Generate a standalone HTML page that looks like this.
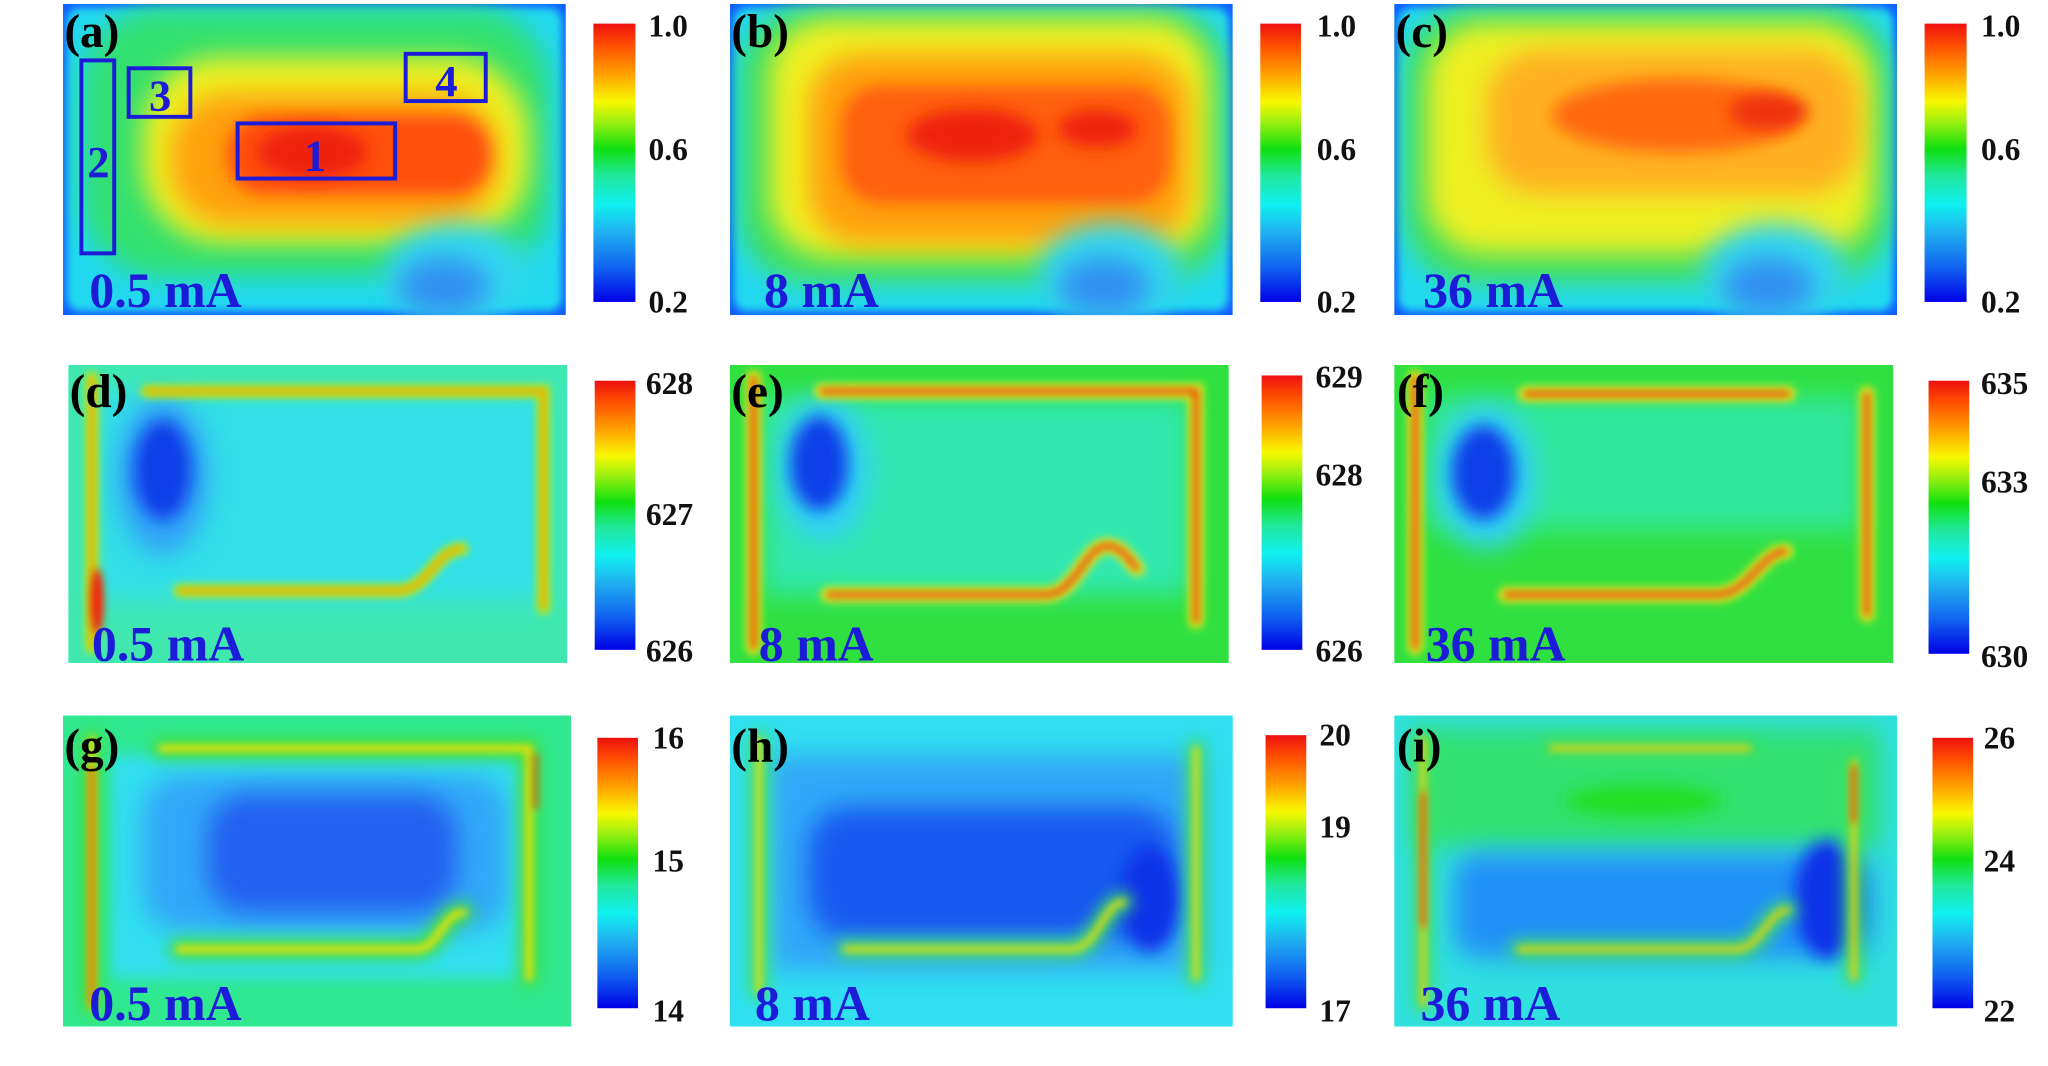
<!DOCTYPE html>
<html><head><meta charset="utf-8">
<style>html,body{margin:0;padding:0;background:#fff;width:2048px;height:1066px;overflow:hidden}svg{display:block}
text{font-family:"Liberation Serif",serif;font-weight:bold}</style></head>
<body>
<svg width="2048" height="1066" viewBox="0 0 1560 812" preserveAspectRatio="none" xmlns="http://www.w3.org/2000/svg">
<defs>
<linearGradient id="jet" x1="0" y1="1" x2="0" y2="0">
<stop offset="0" stop-color="#0000e6"/><stop offset="0.12" stop-color="#1060f0"/><stop offset="0.25" stop-color="#20b0f0"/>
<stop offset="0.35" stop-color="#10f0f0"/><stop offset="0.45" stop-color="#20e8a0"/><stop offset="0.55" stop-color="#10e010"/>
<stop offset="0.65" stop-color="#a0f010"/><stop offset="0.72" stop-color="#f8f800"/><stop offset="0.82" stop-color="#ffa000"/>
<stop offset="0.92" stop-color="#ff5000"/><stop offset="1" stop-color="#ee1010"/></linearGradient>
<filter id="b3" x="-50%" y="-50%" width="200%" height="200%"><feGaussianBlur stdDeviation="3"/></filter>
<filter id="b6" x="-50%" y="-50%" width="200%" height="200%"><feGaussianBlur stdDeviation="6"/></filter>
<filter id="b10" x="-50%" y="-50%" width="200%" height="200%"><feGaussianBlur stdDeviation="10"/></filter>
<filter id="b16" x="-50%" y="-50%" width="200%" height="200%"><feGaussianBlur stdDeviation="16"/></filter>
<clipPath id="cp1"><rect x="0" y="0" width="383" height="237"/></clipPath>
<clipPath id="cp2"><rect x="0" y="0" width="380" height="227"/></clipPath>
<clipPath id="cp3"><rect x="0" y="0" width="387" height="237"/></clipPath>
</defs>

<!-- ROW 1 -->
<g transform="translate(48,3)" clip-path="url(#cp1)">
<rect width="383" height="237" fill="#1060ff"/>
<rect x="3" y="3" width="377" height="231" rx="10" fill="#22d8f0" filter="url(#b3)"/>
<rect x="15" y="3" width="355" height="205" rx="60" fill="#30e070" filter="url(#b10)"/>
<rect x="60" y="40" width="295" height="142" rx="60" fill="#eef020" filter="url(#b10)"/>
<rect x="82" y="68" width="250" height="100" rx="45" fill="#ffa010" filter="url(#b10)"/>
<rect x="125" y="85" width="200" height="60" rx="28" fill="#ff5010" filter="url(#b6)"/>
<ellipse cx="190" cy="113" rx="42" ry="20" fill="#f02010" filter="url(#b6)"/>
<ellipse cx="300" cy="205" rx="55" ry="38" fill="#30d8f0" filter="url(#b10)"/>
<ellipse cx="290" cy="215" rx="35" ry="22" fill="#3090f0" filter="url(#b10)"/>
</g>
<g transform="translate(556,3)" clip-path="url(#cp1)">
<rect width="383" height="237" fill="#1060ff"/>
<rect x="3" y="3" width="377" height="231" rx="10" fill="#22d8f0" filter="url(#b3)"/>
<rect x="8" y="3" width="370" height="210" rx="50" fill="#40e060" filter="url(#b10)"/>
<rect x="30" y="12" width="335" height="180" rx="45" fill="#f0f020" filter="url(#b10)"/>
<rect x="60" y="38" width="290" height="145" rx="40" fill="#ffa010" filter="url(#b10)"/>
<rect x="85" y="62" width="250" height="90" rx="30" fill="#ff6010" filter="url(#b6)"/>
<ellipse cx="185" cy="100" rx="50" ry="20" fill="#f02010" filter="url(#b6)"/>
<ellipse cx="280" cy="95" rx="30" ry="14" fill="#f02010" filter="url(#b6)"/>
<ellipse cx="290" cy="205" rx="55" ry="38" fill="#30d8f0" filter="url(#b10)"/>
<ellipse cx="285" cy="215" rx="35" ry="22" fill="#3090f0" filter="url(#b10)"/>
</g>
<g transform="translate(1062,3)" clip-path="url(#cp1)">
<rect width="383" height="237" fill="#1060ff"/>
<rect x="3" y="3" width="377" height="231" rx="10" fill="#22d8f0" filter="url(#b3)"/>
<rect x="8" y="3" width="370" height="210" rx="50" fill="#40e060" filter="url(#b10)"/>
<rect x="25" y="15" width="340" height="175" rx="45" fill="#eef020" filter="url(#b10)"/>
<rect x="70" y="35" width="285" height="110" rx="40" fill="#ffb020" filter="url(#b10)"/>
<ellipse cx="215" cy="85" rx="95" ry="28" fill="#ff6a10" filter="url(#b6)"/>
<ellipse cx="285" cy="82" rx="30" ry="14" fill="#f03010" filter="url(#b6)"/>
<ellipse cx="290" cy="205" rx="55" ry="38" fill="#30d8f0" filter="url(#b10)"/>
<ellipse cx="285" cy="215" rx="35" ry="22" fill="#3090f0" filter="url(#b10)"/>
</g>
<!-- boxes in (a) -->
<g fill="none" stroke="#1b1bd8" stroke-width="3">
<rect x="62" y="46" width="25" height="147"/><rect x="98" y="52" width="47" height="37"/>
<rect x="181" y="94" width="120" height="42"/><rect x="309" y="41" width="61" height="36"/></g>
<g fill="#1b1bd8" font-size="34" text-anchor="middle"><text x="75" y="135">2</text><text x="122" y="84">3</text><text x="240" y="130">1</text><text x="340" y="73">4</text></g>

<!-- ROW 2 -->
<g transform="translate(52,278)" clip-path="url(#cp2)">
<rect width="380" height="227" fill="#40e8b0"/>
<rect x="20" y="20" width="345" height="160" fill="#30e0e8" filter="url(#b10)"/>
<ellipse cx="72" cy="85" rx="35" ry="60" fill="#30a0f8" filter="url(#b10)"/>
<ellipse cx="72" cy="80" rx="22" ry="38" fill="#1040e8" filter="url(#b6)"/>
<g fill="none" stroke-linecap="round">
<path d="M18 10 V215 M60 20 H362 V185 M85 172 H250 C275 172 280 140 300 140" stroke="#a8f020" stroke-width="10" filter="url(#b3)"/>
<path d="M18 10 V215 M60 20 H362 V185 M85 172 H250 C275 172 280 140 300 140" stroke="#f8a000" stroke-width="4" filter="url(#b3)"/>
</g>
<ellipse cx="22" cy="180" rx="5" ry="25" fill="#f02010" filter="url(#b3)"/>
</g>
<g transform="translate(556,278)" clip-path="url(#cp2)">
<rect width="380" height="227" fill="#30e040"/>
<rect x="25" y="25" width="325" height="150" fill="#30e8b0" filter="url(#b10)"/>
<ellipse cx="72" cy="80" rx="35" ry="55" fill="#30d0f8" filter="url(#b10)"/>
<ellipse cx="68" cy="75" rx="22" ry="36" fill="#1040e8" filter="url(#b6)"/>
<g fill="none" stroke-linecap="round">
<path d="M18 10 V215 M70 20 H355 V195 M75 175 H240 C265 175 270 135 290 138 C300 140 305 150 310 155" stroke="#d8f020" stroke-width="12" filter="url(#b3)"/>
<path d="M18 10 V215 M70 20 H355 V195 M75 175 H240 C265 175 270 135 290 138 C300 140 305 150 310 155" stroke="#f03010" stroke-width="4" filter="url(#b3)"/>
</g>
</g>
<g transform="translate(1062,278)" clip-path="url(#cp2)">
<rect width="383" height="227" fill="#30e040"/>
<rect x="25" y="25" width="330" height="100" fill="#30e8a0" filter="url(#b10)"/>
<ellipse cx="70" cy="85" rx="38" ry="55" fill="#30d0f8" filter="url(#b10)"/>
<ellipse cx="68" cy="82" rx="24" ry="36" fill="#1040e8" filter="url(#b6)"/>
<g fill="none" stroke-linecap="round">
<path d="M16 10 V215 M100 22 H300 M360 22 V190 M85 175 H245 C270 175 280 142 298 142" stroke="#d8f020" stroke-width="12" filter="url(#b3)"/>
<path d="M16 10 V215 M100 22 H300 M360 22 V190 M85 175 H245 C270 175 280 142 298 142" stroke="#f03010" stroke-width="4" filter="url(#b3)"/>
</g>
</g>

<!-- ROW 3 -->
<g transform="translate(48,545)" clip-path="url(#cp3)">
<rect width="387" height="237" fill="#30e890"/>
<rect x="35" y="30" width="320" height="170" fill="#30e0f0" filter="url(#b6)"/>
<rect x="60" y="45" width="280" height="120" rx="30" fill="#30a8f8" filter="url(#b10)"/>
<rect x="110" y="60" width="190" height="90" rx="30" fill="#2060f0" filter="url(#b10)"/>
<g fill="none" stroke-linecap="round">
<path d="M22 18 V222 M75 25 H355 V200 M88 178 H270 C285 178 290 150 305 150" stroke="#40e040" stroke-width="16" filter="url(#b6)"/>
<path d="M22 18 V222 M75 25 H355 V200 M88 178 H270 C285 178 290 150 305 150" stroke="#f8e000" stroke-width="5" filter="url(#b3)"/>
<path d="M22 40 V220 M360 30 V70" stroke="#f04010" stroke-width="3" filter="url(#b3)"/>
</g>
</g>
<g transform="translate(556,545)" clip-path="url(#cp3)">
<rect width="383" height="237" fill="#30e0f0"/>
<rect x="30" y="30" width="330" height="165" fill="#30a8f8" filter="url(#b10)"/>
<rect x="60" y="70" width="280" height="100" rx="30" fill="#1858f0" filter="url(#b10)"/>
<ellipse cx="320" cy="140" rx="22" ry="40" fill="#1030e8" filter="url(#b6)"/>
<g fill="none" stroke-linecap="round">
<path d="M22 18 V210 M355 25 V200 M88 178 H260 C280 178 285 142 300 142" stroke="#40e060" stroke-width="14" filter="url(#b6)"/>
<path d="M22 18 V210 M355 25 V200 M88 178 H260 C280 178 285 142 300 142" stroke="#f8e000" stroke-width="4" filter="url(#b3)"/>
</g>
</g>
<g transform="translate(1062,545)" clip-path="url(#cp3)">
<rect width="383" height="237" fill="#30e0e0"/>
<rect x="15" y="10" width="355" height="90" fill="#30e070" filter="url(#b10)"/>
<ellipse cx="190" cy="65" rx="60" ry="12" fill="#20e020" filter="url(#b6)"/>
<rect x="45" y="105" width="320" height="80" rx="20" fill="#2090f8" filter="url(#b10)"/>
<ellipse cx="330" cy="140" rx="25" ry="45" fill="#1030e8" filter="url(#b6)"/>
<g fill="none" stroke-linecap="round">
<path d="M22 18 V220 M350 35 V200 M120 25 H270 M95 178 H260 C280 178 285 148 300 148" stroke="#40e060" stroke-width="14" filter="url(#b6)"/>
<path d="M22 18 V220 M350 35 V200 M120 25 H270 M95 178 H260 C280 178 285 148 300 148" stroke="#f8d000" stroke-width="4" filter="url(#b3)"/>
<path d="M22 60 V160 M350 40 V80" stroke="#f03010" stroke-width="3" filter="url(#b3)"/>
</g>
</g>

<!-- colorbars -->
<rect x="452" y="18" width="32" height="212" fill="url(#jet)"/>
<rect x="960" y="18" width="31" height="212" fill="url(#jet)"/>
<rect x="1466" y="18" width="32" height="212" fill="url(#jet)"/>
<rect x="453" y="290" width="31" height="205" fill="url(#jet)"/>
<rect x="961" y="286" width="31" height="209" fill="url(#jet)"/>
<rect x="1469" y="290" width="31" height="208" fill="url(#jet)"/>
<rect x="455" y="562" width="31" height="206" fill="url(#jet)"/>
<rect x="964" y="560" width="31" height="208" fill="url(#jet)"/>
<rect x="1472" y="562" width="31" height="206" fill="url(#jet)"/>

<g fill="#111" font-size="24">
<text x="494" y="28">1.0</text><text x="494" y="122">0.6</text><text x="494" y="238">0.2</text>
<text x="1003" y="28">1.0</text><text x="1003" y="122">0.6</text><text x="1003" y="238">0.2</text>
<text x="1509" y="28">1.0</text><text x="1509" y="122">0.6</text><text x="1509" y="238">0.2</text>
<text x="492" y="300">628</text><text x="492" y="400">627</text><text x="492" y="504">626</text>
<text x="1002" y="295">629</text><text x="1002" y="370">628</text><text x="1002" y="504">626</text>
<text x="1509" y="300">635</text><text x="1509" y="375">633</text><text x="1509" y="508">630</text>
<text x="497" y="570">16</text><text x="497" y="664">15</text><text x="497" y="778">14</text>
<text x="1005" y="568">20</text><text x="1005" y="638">19</text><text x="1005" y="778">17</text>
<text x="1511" y="570">26</text><text x="1511" y="664">24</text><text x="1511" y="778">22</text>
</g>
<g fill="#000" font-size="36">
<text x="49" y="36">(a)</text><text x="557" y="36">(b)</text><text x="1063" y="36">(c)</text>
<text x="53" y="310">(d)</text><text x="557" y="310">(e)</text><text x="1064" y="310">(f)</text>
<text x="49" y="580">(g)</text><text x="557" y="580">(h)</text><text x="1064" y="580">(i)</text>
</g>
<g fill="#1b1bd8" font-size="38">
<text x="68" y="234">0.5 mA</text><text x="582" y="234">8 mA</text><text x="1084" y="234">36 mA</text>
<text x="70" y="503">0.5 mA</text><text x="578" y="503">8 mA</text><text x="1086" y="503">36 mA</text>
<text x="68" y="777">0.5 mA</text><text x="575" y="777">8 mA</text><text x="1082" y="777">36 mA</text>
</g>
</svg>
</body></html>
